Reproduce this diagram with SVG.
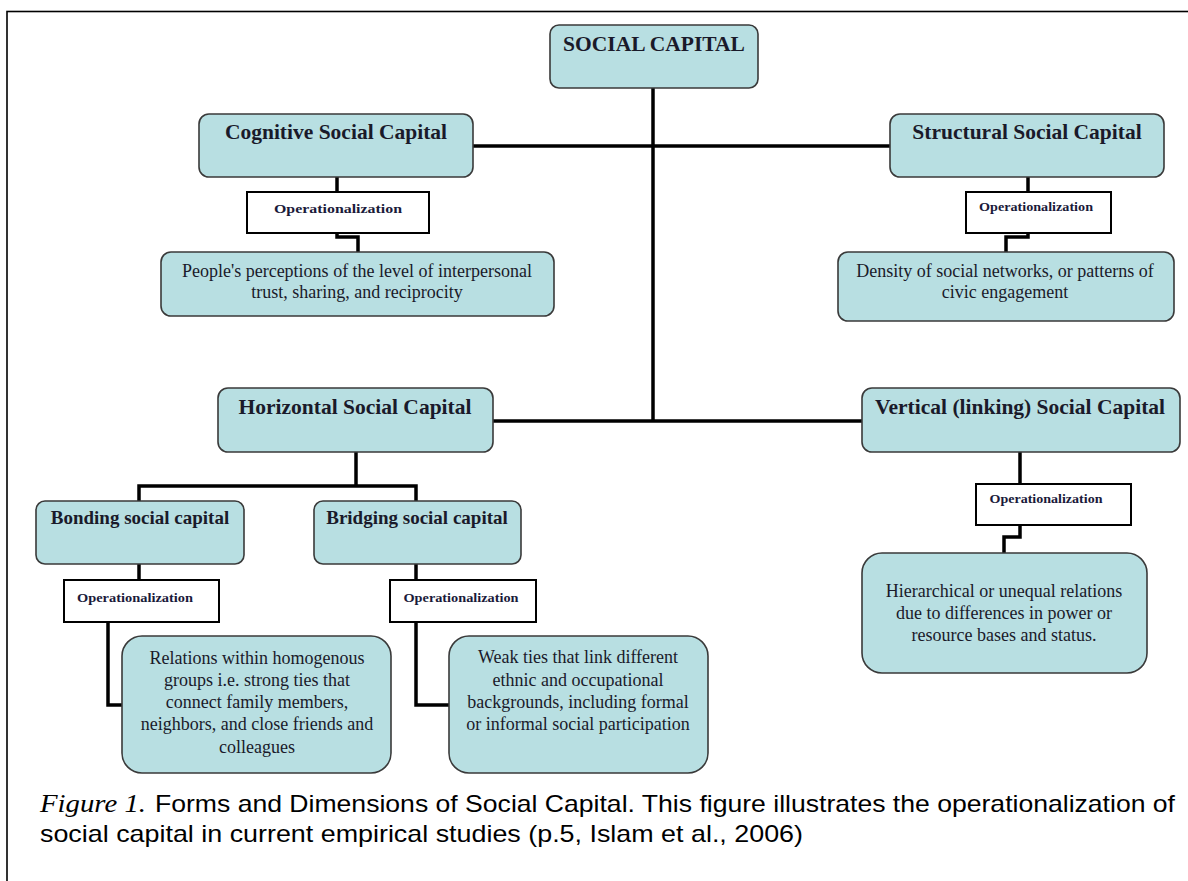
<svg xmlns="http://www.w3.org/2000/svg" width="1188" height="881" viewBox="0 0 1188 881">
<style>
.bx{fill:#b8dfe2;stroke:#3a3a3a;stroke-width:1.6}
.op{fill:#ffffff;stroke:#000;stroke-width:2}
.h{font-family:"Liberation Serif",serif;font-weight:bold;font-size:21.5px;fill:#1a1a2a;text-anchor:middle}
.h2{font-family:"Liberation Serif",serif;font-weight:bold;font-size:19px;fill:#1a1a2a;text-anchor:middle}
.t{font-family:"Liberation Serif",serif;font-size:18px;fill:#1a1a2a;text-anchor:middle}
.o{font-family:"Liberation Serif",serif;font-weight:bold;font-size:13px;fill:#1a1a3a;text-anchor:middle}
.c{stroke:#000;stroke-width:3.5;fill:none}
.cap{font-family:"Liberation Sans",sans-serif;font-size:24px;fill:#000}
.capi{font-family:"Liberation Serif",serif;font-style:italic;font-size:26px;fill:#000}
</style>
<rect x="0" y="0" width="1188" height="881" fill="#ffffff"/>
<rect x="7" y="11.5" width="1200" height="900" fill="none" stroke="#000" stroke-width="1.6"/>

<g id="connectors">
<path class="c" d="M653,88 V421"/>
<path class="c" d="M473,146 H890"/>
<path class="c" d="M493,421 H862"/>
<path class="c" d="M337,177 V192"/>
<path class="c" d="M337,233 V237 H358 V253"/>
<path class="c" d="M1028,177 V192"/>
<path class="c" d="M1028,233 V237 H1006 V253"/>
<path class="c" d="M356,452 V486"/>
<path class="c" d="M139,501 V486 H416 V501"/>
<path class="c" d="M139,564 V580"/>
<path class="c" d="M108,622 V705 H122"/>
<path class="c" d="M416,564 V580"/>
<path class="c" d="M416,622 V705 H449"/>
<path class="c" d="M1020,452 V484"/>
<path class="c" d="M1020,525 V537 H1004 V553"/>
</g>

<g id="social-capital">
<rect class="bx" x="550" y="25" width="208" height="63" rx="9"/>
<text class="h" x="654" y="51">SOCIAL CAPITAL</text>
</g>
<g id="cognitive">
<rect class="bx" x="199" y="114" width="274" height="63" rx="10"/>
<text class="h" x="336" y="139">Cognitive Social Capital</text>
</g>
<g id="structural">
<rect class="bx" x="890" y="114" width="274" height="63" rx="10"/>
<text class="h" x="1027" y="139">Structural Social Capital</text>
</g>
<g id="op-cognitive">
<rect class="op" x="247" y="192" width="182" height="41"/>
<text class="o" x="338" y="213" textLength="128" lengthAdjust="spacingAndGlyphs">Operationalization</text>
</g>
<g id="op-structural">
<rect class="op" x="966" y="192" width="145" height="41"/>
<text class="o" x="1036" y="211" textLength="114" lengthAdjust="spacingAndGlyphs">Operationalization</text>
</g>
<g id="people">
<rect class="bx" x="161" y="252" width="393" height="64" rx="10"/>
<text class="t" x="357" y="277">People's perceptions of the level of interpersonal</text>
<text class="t" x="357" y="298">trust, sharing, and reciprocity</text>
</g>
<g id="density">
<rect class="bx" x="838" y="252" width="336" height="69" rx="10"/>
<text class="t" x="1005" y="277">Density of social networks, or patterns of</text>
<text class="t" x="1005" y="298">civic engagement</text>
</g>
<g id="horizontal">
<rect class="bx" x="218" y="388" width="275" height="64" rx="10"/>
<text class="h" x="355" y="414">Horizontal Social Capital</text>
</g>
<g id="vertical">
<rect class="bx" x="862" y="388" width="318" height="64" rx="10"/>
<text class="h" x="1020" y="414">Vertical (linking) Social Capital</text>
</g>
<g id="bonding">
<rect class="bx" x="36" y="501" width="208" height="63" rx="9"/>
<text class="h2" x="140" y="524">Bonding social capital</text>
</g>
<g id="bridging">
<rect class="bx" x="314" y="501" width="207" height="63" rx="9"/>
<text class="h2" x="417" y="524">Bridging social capital</text>
</g>
<g id="op-bonding">
<rect class="op" x="64" y="580" width="155" height="42"/>
<text class="o" x="135" y="602" textLength="116" lengthAdjust="spacingAndGlyphs">Operationalization</text>
</g>
<g id="op-bridging">
<rect class="op" x="390" y="580" width="146" height="42"/>
<text class="o" x="461" y="602" textLength="115" lengthAdjust="spacingAndGlyphs">Operationalization</text>
</g>
<g id="op-vertical">
<rect class="op" x="976" y="484" width="155" height="41"/>
<text class="o" x="1046" y="503" textLength="113" lengthAdjust="spacingAndGlyphs">Operationalization</text>
</g>
<g id="relations">
<rect class="bx" x="122" y="636" width="269" height="137" rx="20"/>
<text class="t" x="257" y="664">Relations within homogenous</text>
<text class="t" x="257" y="686">groups i.e. strong ties that</text>
<text class="t" x="257" y="708">connect family members,</text>
<text class="t" x="257" y="730">neighbors, and close friends and</text>
<text class="t" x="257" y="753">colleagues</text>
</g>
<g id="weak">
<rect class="bx" x="449" y="636" width="259" height="137" rx="20"/>
<text class="t" x="578" y="663">Weak ties that link different</text>
<text class="t" x="578" y="686">ethnic and occupational</text>
<text class="t" x="578" y="708">backgrounds, including formal</text>
<text class="t" x="578" y="730">or informal social participation</text>
</g>
<g id="hierarchical">
<rect class="bx" x="862" y="553" width="285" height="120" rx="20"/>
<text class="t" x="1004" y="597">Hierarchical or unequal relations</text>
<text class="t" x="1004" y="619">due to differences in power or</text>
<text class="t" x="1004" y="641">resource bases and status.</text>
</g>

<g id="caption">
<text class="capi" x="40" y="812" textLength="106" lengthAdjust="spacingAndGlyphs">Figure 1.</text>
<text class="cap" x="155" y="812" textLength="1020" lengthAdjust="spacingAndGlyphs">Forms and Dimensions of Social Capital. This figure illustrates the operationalization of</text>
<text class="cap" x="40" y="842" textLength="763" lengthAdjust="spacingAndGlyphs">social capital in current empirical studies (p.5, Islam et al., 2006)</text>
</g>
</svg>
